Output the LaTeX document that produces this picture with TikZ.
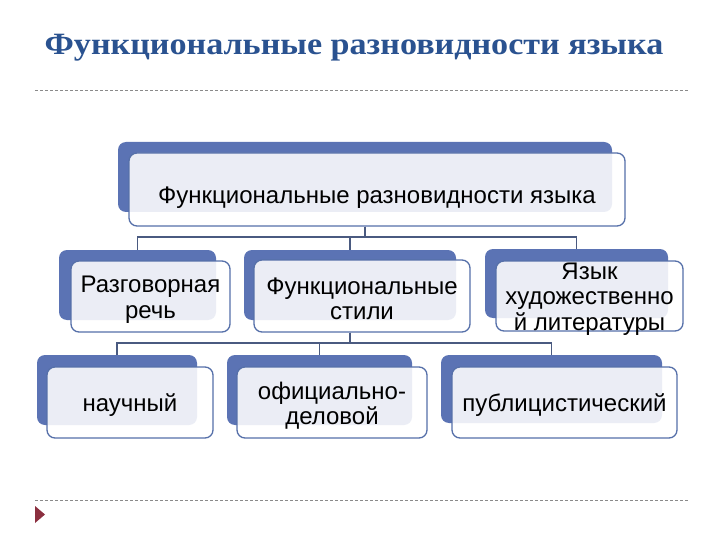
\documentclass[tikz,border=0pt]{standalone}
\usepackage{fontspec}
\usepackage{graphicx}
\setmainfont{Liberation Sans}
\newfontfamily\titlefont{Liberation Serif}
\usetikzlibrary{backgrounds}
\definecolor{backblue}{HTML}{5B73B4}
\definecolor{frontborder}{HTML}{5670A9}
\definecolor{connc}{HTML}{4A5A80}
\definecolor{titleblue}{HTML}{2A5290}
\definecolor{dashgray}{HTML}{8A8A8A}
\definecolor{markred}{HTML}{8B2F3F}
\begin{document}
\begin{tikzpicture}[x=1pt,y=-1pt,
  backbox/.style={draw=none, fill=backblue, rounded corners=8pt, inner sep=0pt},
  frontbox/.style={draw=frontborder, line width=1.3pt, fill=white, fill opacity=0.88, rounded corners=8pt, inner sep=0pt},
  boxtext/.style={inner sep=0pt, align=center, font=\fontsize{24}{25.5}\selectfont, text=black, yshift=-3pt},
  conn/.style={draw=connc, line width=1.8pt},
  sepline/.style={draw=dashgray, line width=0.6pt, dash pattern=on 3pt off 2pt}]
\useasboundingbox (0,0) rectangle (720,540);

% back rectangles
\begin{scope}[on background layer]
\fill[white] (0,0) rectangle (720,540);
\node[backbox, minimum width=494pt, minimum height=70pt] (b0) at (365,177) {};
\node[backbox, minimum width=157pt, minimum height=70pt] (b1) at (137.5,285) {};
\node[backbox, minimum width=212pt, minimum height=70pt] (b2) at (350,285) {};
\node[backbox, minimum width=183pt, minimum height=69pt] (b3) at (576.5,283.5) {};
\node[backbox, minimum width=160pt, minimum height=70pt] (b4) at (117,390) {};
\node[backbox, minimum width=185pt, minimum height=70pt] (b5) at (319.5,390) {};
\node[backbox, minimum width=221pt, minimum height=68pt] (b6) at (551.5,389) {};
\end{scope}

% title
\node[font=\titlefont\bfseries\fontsize{31}{34}\selectfont, text=titleblue, anchor=base, inner sep=0pt] (title) at (354,55) {\scalebox{1.1}[1]{Функциональные разновидности языка}};

% dashed separators
\coordinate (d1a) at (35,90);
\coordinate (d1b) at (688,90);
\coordinate (d2a) at (35,500);
\coordinate (d2b) at (688,500);
\draw[sepline] (d1a) -- (d1b);
\draw[sepline] (d2a) -- (d2b);

% marker
\fill[markred] (35,506) -- (45,514.5) -- (35,523) -- cycle;

% front boxes
\node[frontbox, minimum width=496pt, minimum height=73pt] (f0) at (377,189.5) {};
\node[frontbox, minimum width=159pt, minimum height=71pt] (f1) at (150.5,296.5) {};
\node[frontbox, minimum width=216pt, minimum height=72pt] (f2) at (362,296) {};
\node[frontbox, minimum width=187pt, minimum height=70pt] (f3) at (589.5,296) {};
\node[frontbox, minimum width=166pt, minimum height=71pt] (f4) at (130,402.5) {};
\node[frontbox, minimum width=190pt, minimum height=71pt] (f5) at (332,402.5) {};
\node[frontbox, minimum width=225pt, minimum height=71pt] (f6) at (564.5,402.5) {};

% texts
\node[boxtext, yshift=-5pt] (t0) at (f0.center) {Функциональные разновидности языка};
\node[boxtext] (t1) at (f1.center) {Разговорная\\речь};
\node[boxtext] (t2) at (f2.center) {Функциональные\\стили};
\node[boxtext] (t3) at (f3.center) {Язык\\художественно\\й литературы};
\node[boxtext] (t4) at (f4.center) {научный};
\node[boxtext] (t5) at (f5.center) {официально-\\деловой};
\node[boxtext] (t6) at (f6.center) {публицистический};

% connectors
\draw[conn] (b0.south |- f0.south) -- ++(0,10) -| (b1.north);
\draw[conn] (b0.south |- f0.south) -- ++(0,10) -| (b2.north);
\draw[conn] (b0.south |- f0.south) -- ++(0,10) -| (b3.north);
\draw[conn] (b2.south |- f2.south) -- ++(0,10) -| (b4.north);
\draw[conn] (b2.south |- f2.south) -- ++(0,10) -| (b5.north);
\draw[conn] (b2.south |- f2.south) -- ++(0,10) -| (b6.north);
\end{tikzpicture}
\end{document}
